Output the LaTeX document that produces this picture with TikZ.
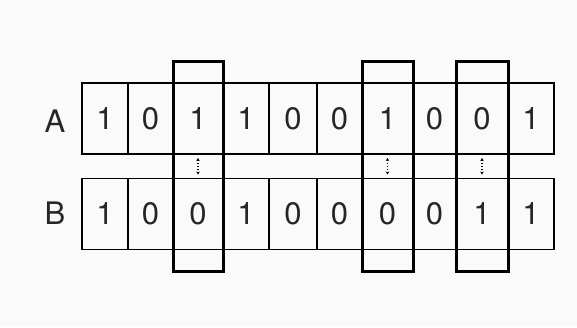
\documentclass[tikz,border=0pt]{standalone}
\usepackage{fontspec}
\setmainfont{TeX Gyre Heros}
\usetikzlibrary{fit,arrows.meta}
\tikzset{
  bitcell/.style={draw, line width=1.6pt, inner sep=0pt, outer sep=0pt,
    minimum height=71pt, text=black!85, font=\fontsize{31}{32}\selectfont},
  rowlabel/.style={text=black!85, font=\fontsize{31}{32}\selectfont},
  hlbox/.style={draw, line width=3pt, inner xsep=0pt, inner ysep=22pt},
  pairarrow/.style={{Stealth[length=3pt,width=3.5pt]}-{Stealth[length=3pt,width=3.5pt]},
    dash pattern=on 1.5pt off 1.5pt, line width=1.5pt, shorten >=4pt, shorten <=4pt}
}
\begin{document}
\begin{tikzpicture}[x=1pt, y=-1pt]
  % page and background
  \fill[black!2] (0,0) rectangle (577,327);
  \useasboundingbox (0,0) rectangle (577,327);
  % row labels
  \node[rowlabel] (labA) at (55,121) {A};
  \node[rowlabel] (labB) at (55,213) {B};
  % bit cells: left edge / right edge / bit of A / bit of B
  \foreach \l/\r/\va/\vb [count=\i] in {82/128/1/1, 128/173/0/0, 173/223/1/0,
      223/269/1/1, 269/317/0/0, 317/362/0/0, 362/413/1/0, 413/456/0/0,
      456/508/0/1, 508/554/1/1} {
    \node[bitcell, minimum width={\r-\l}] (a\i) at ({(\l+\r)/2},118.5) {\va};
    \node[bitcell, minimum width={\r-\l}] (b\i) at ({(\l+\r)/2},214) {\vb};
  }
  % columns where the bits differ
  \foreach \c in {3,7,9} {
    \node[hlbox, fit=(a\c)(b\c)] (diff\c) {};
    \draw[pairarrow] (a\c) -- (b\c);
  }
\end{tikzpicture}
\end{document}
